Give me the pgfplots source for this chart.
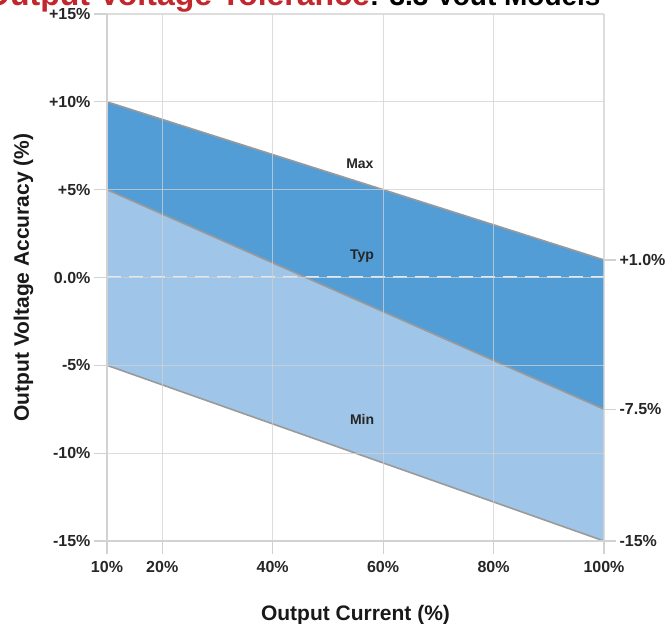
\documentclass[border=0pt]{standalone}
\usepackage{pgfplots}
\pgfplotsset{compat=1.18}
\usepackage{fontspec}
\setmainfont{Liberation Sans}
\definecolor{darkband}{HTML}{529DD6}
\definecolor{lightband}{HTML}{9FC5E8}
\definecolor{gridc}{HTML}{D2D2D2}
\definecolor{edge}{HTML}{9A9A9A}
\definecolor{titlered}{HTML}{C1272D}
\definecolor{zeroc}{HTML}{DDEAF6}
\begin{document}
\begin{tikzpicture}
\path[use as bounding box] (-107pt,-83pt) rectangle (558pt,541pt);
\clip (-107pt,-83pt) rectangle (558pt,541pt);
\node[anchor=base west, inner sep=0pt, font=\bfseries] at (-122pt,535pt)
  {\fontsize{32}{32}\selectfont\color{titlered}Output Voltage Tolerance\color{black}\fontsize{28}{28}\selectfont: 3.3 Vout Models};
\begin{axis}[
  at={(0pt,0pt)}, anchor=south west,
  scale only axis, width=497pt, height=527pt,
  xmin=10, xmax=100, ymin=-15, ymax=15,
  xtick={10,20,40,60,80,100},
  xticklabels={10\%,20\%,40\%,60\%,80\%,100\%},
  ytick={-15,-10,-5,0,5,10,15},
  yticklabels={-15\%,-10\%,-5\%,0.0\%,+5\%,+10\%,+15\%},
  /pgf/number format/assume math mode=true,
  axis lines*=left,
  axis line style={gridc, line width=1.2pt, -},
  grid=major,
  grid style={gridc, line width=1.2pt, opacity=0.75},
  every tick/.style={gridc, line width=1.2pt},
  x tick style={gridc, line width=1.2pt},
  y tick style={gridc, line width=1.2pt},
  xtick align=outside, ytick align=outside,
  x tick label style={yshift=-4pt},
  major tick length=13pt,
  axis on top,
  ticklabel style={font=\bfseries\fontsize{16}{16}\selectfont, text=black!85},
  xlabel={Output Current (\%)},
  ylabel={Output Voltage Accuracy (\%)},
  label style={font=\bfseries\fontsize{21}{21}\selectfont, text=black!90},
  xlabel style={at={(axis description cs:0.5,-0.1404)}, anchor=center},
  ylabel style={at={(axis description cs:-0.168,0.5)}, anchor=center},
  clip=false,
]
\addplot[fill=lightband, draw=none] coordinates {(10,5) (100,-7.5) (100,-15) (10,-5)} -- cycle;
\addplot[fill=darkband, draw=none] coordinates {(10,10) (100,1) (100,-7.5) (10,5)} -- cycle;
\addplot[zeroc, line width=2pt, dash pattern=on 14pt off 8pt] coordinates {(10,0) (100,0)};
\addplot[edge, line width=1.6pt] coordinates {(10,10) (100,1)};
\addplot[edge, line width=1.6pt] coordinates {(10,5) (100,-7.5)};
\addplot[edge, line width=1.6pt] coordinates {(10,-5) (100,-15)};
\node[font=\bfseries\fontsize{14}{14}\selectfont, text=black!85] at (axis cs:55.8,6.5) {Max};
\node[font=\bfseries\fontsize{14}{14}\selectfont, text=black!85] at (axis cs:56.2,1.2) {Typ};
\node[font=\bfseries\fontsize{14}{14}\selectfont, text=black!85] at (axis cs:56.2,-8.1) {Min};
\draw[gridc, line width=1.2pt] (axis cs:100,1) -- ++(12pt,0pt) node[right, inner sep=3pt, font=\bfseries\fontsize{16}{16}\selectfont, text=black!85] {+1.0\%};
\draw[gridc, line width=1.2pt] (axis cs:100,-7.5) -- ++(12pt,0pt) node[right, inner sep=3pt, font=\bfseries\fontsize{16}{16}\selectfont, text=black!85] {-7.5\%};
\draw[gridc, line width=1.2pt] (axis cs:100,-15) -- ++(12pt,0pt) node[right, inner sep=3pt, font=\bfseries\fontsize{16}{16}\selectfont, text=black!85] {-15\%};
\end{axis}
\end{tikzpicture}
\end{document}
